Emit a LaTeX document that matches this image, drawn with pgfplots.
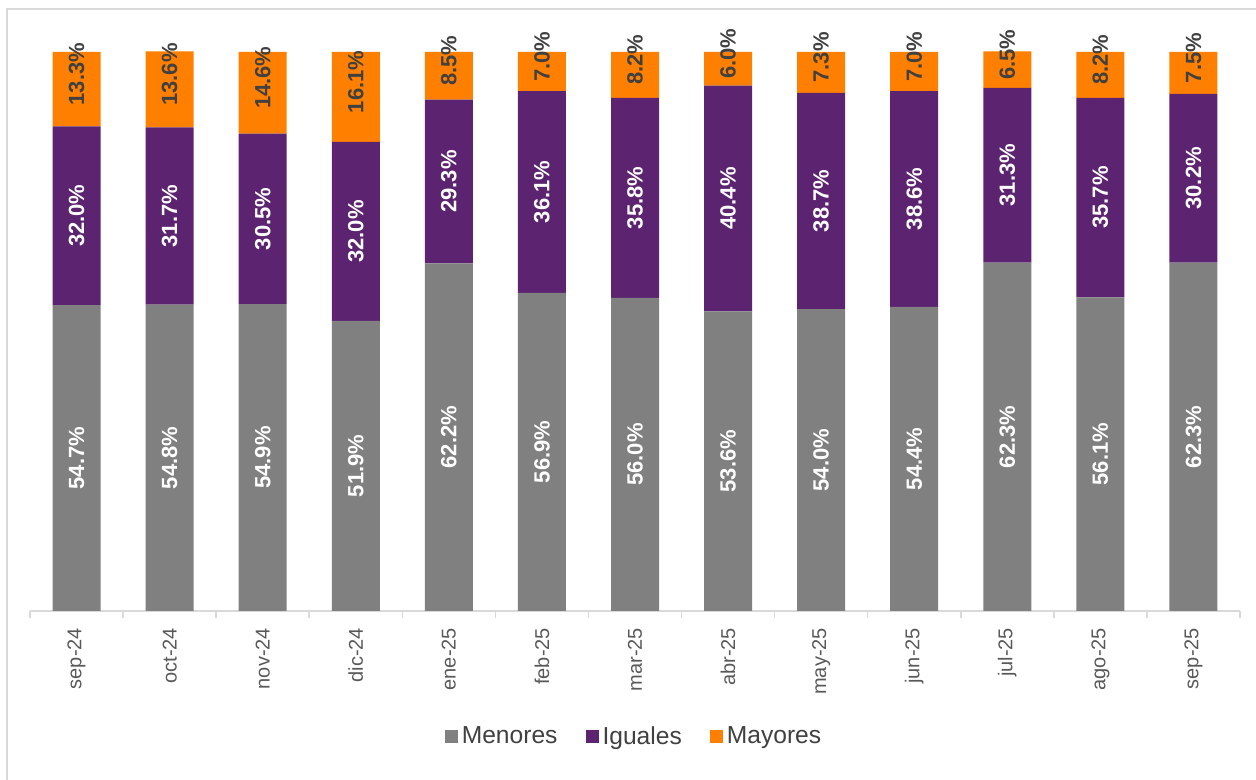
\documentclass[border=0pt]{standalone}
\usepackage{pgfplots}
\usepackage{pgfplotstable}
\pgfplotsset{compat=1.18}
\usepackage{fontspec}
\setmainfont{Liberation Sans}
\definecolor{cgrey}{HTML}{808080}
\definecolor{cpurple}{HTML}{5C2370}
\definecolor{corange}{HTML}{FF8000}
\definecolor{ctick}{HTML}{595959}
\definecolor{clab}{HTML}{404040}
\definecolor{cline}{HTML}{D9D9D9}

\pgfplotstableread{
x men igu may
0 54.7 32.0 13.3
1 54.8 31.7 13.6
2 54.9 30.5 14.6
3 51.9 32.0 16.1
4 62.2 29.3 8.5
5 56.9 36.1 7.0
6 56.0 35.8 8.2
7 53.6 40.4 6.0
8 54.0 38.7 7.3
9 54.4 38.6 7.0
10 62.3 31.3 6.5
11 56.1 35.7 8.2
12 62.3 30.2 7.5
}\datatable

\begin{document}
\begin{tikzpicture}
\path[use as bounding box] (0,0) rectangle (628pt,390pt);
\draw[cline, line width=1pt] (3.25pt,0pt) -- (3.25pt,385.5pt) -- (628pt,385.5pt);
\begin{axis}[
  at={(15pt,84.5pt)}, anchor=south west,
  scale only axis, width=605pt, height=279.5pt,
  xmin=-0.5, xmax=12.5, ymin=0, ymax=100,
  clip=false,
  ybar stacked, bar width=24pt,
  axis x line*=bottom, axis y line=none,
  x axis line style={cline, line width=0.75pt, -},
  xtick={0,...,12},
  xticklabels={sep-24,oct-24,nov-24,dic-24,ene-25,feb-25,mar-25,abr-25,may-25,jun-25,jul-25,ago-25,sep-25},
  major tick length=0pt,
  minor xtick={-0.5,0.5,...,12.5},
  minor tick length=3.5pt,
  xtick align=outside,
  minor tick style={cline, line width=0.75pt},
  xticklabel shift=5pt,
  xticklabel style={rotate=90, anchor=east, font=\fontsize{10}{12}\selectfont, text=ctick},
  ytick=\empty,
  legend style={at={(0.5,-0.2254)}, anchor=center, draw=none, fill=none,
    legend columns=3, font=\fontsize{12.3}{14}\selectfont, text=clab,
    /tikz/every even column/.append style={column sep=12pt}},
  legend image code/.code={\fill[#1] (0pt,-3.25pt) rectangle (6.5pt,3.25pt);},
]
\addplot[fill=cgrey, draw=none] table[x=x, y=men] {\datatable};
\addplot[fill=cpurple, draw=none] table[x=x, y=igu] {\datatable};
\addplot[fill=corange, draw=none] table[x=x, y=may] {\datatable};
\legend{Menores, Iguales, Mayores}
\end{axis}
\begin{axis}[
  at={(15pt,84.5pt)}, anchor=south west,
  scale only axis, width=605pt, height=279.5pt,
  xmin=-0.5, xmax=12.5, ymin=0, ymax=100,
  clip=false, hide axis,
  point meta=explicit,
  nodes near coords={\pgfmathprintnumber[fixed,fixed zerofill,precision=1,assume math mode=true]{\pgfplotspointmeta}\%},
]
\addplot[draw=none, mark=none, nodes near coords style={anchor=center, rotate=90, font=\bfseries\fontsize{11}{13}\selectfont, text=white}]
  table[x=x, y expr=\thisrow{men}/2, meta=men] {\datatable};
\addplot[draw=none, mark=none, nodes near coords style={anchor=center, rotate=90, font=\bfseries\fontsize{11}{13}\selectfont, text=white}]
  table[x=x, y expr=\thisrow{men}+\thisrow{igu}/2, meta=igu] {\datatable};
\addplot[draw=none, mark=none, nodes near coords style={yshift=7.5pt, anchor=center, rotate=90, font=\bfseries\fontsize{11}{13}\selectfont, text=clab}]
  table[x=x, y expr=\thisrow{men}+\thisrow{igu}+\thisrow{may}/2, meta=may] {\datatable};
\end{axis}
\end{tikzpicture}
\end{document}
